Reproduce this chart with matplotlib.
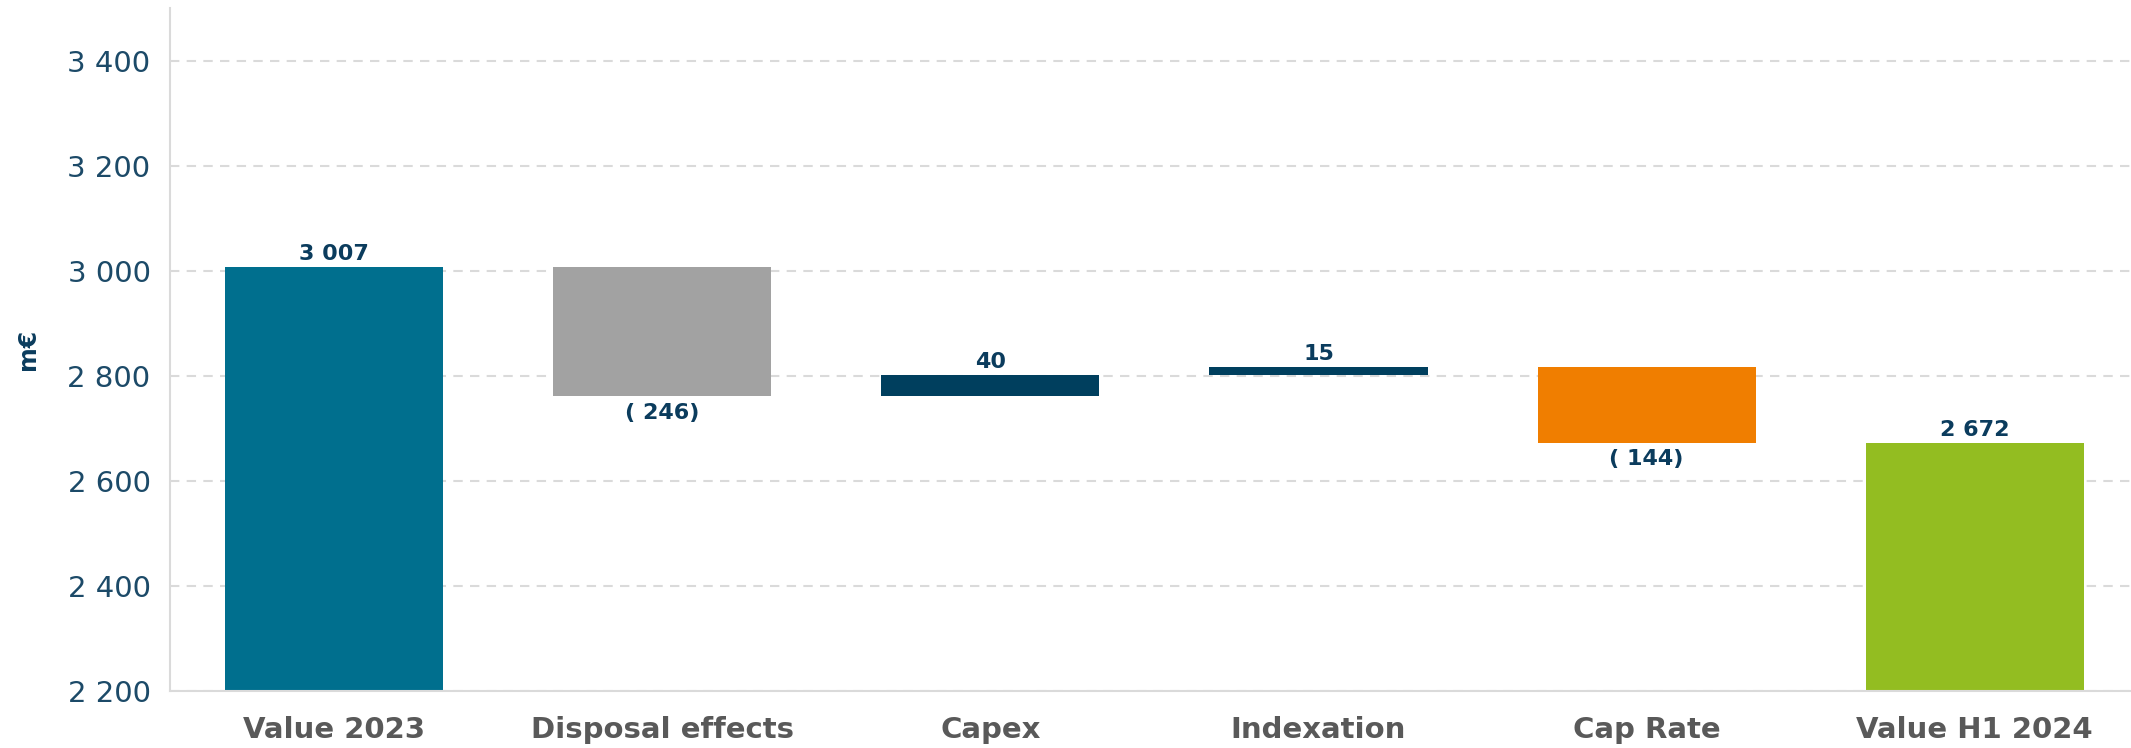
import matplotlib
matplotlib.use("Agg")
import matplotlib.pyplot as plt

# Portfolio value bridge (m€)
categories = ["Value 2023", "Disposal effects", "Capex", "Indexation", "Cap Rate", "Value H1 2024"]
changes = [3007, -246, 40, 15, -144, 2672]
is_total = [True, False, False, False, False, True]
bar_colors = ["#006F8E", "#A2A2A2", "#003F5E", "#003F5E", "#F07E00", "#93BD21"]
y_ticks = [2200, 2400, 2600, 2800, 3000, 3200, 3400]

LABEL_COLOR = "#0B3C5D"
TICK_COLOR = "#1C4A68"
CAT_COLOR = "#595959"
GRID_COLOR = "#DADADA"


def fmt_thousands(v):
    return f"{v:,}".replace(",", " ")


def value_label(v):
    return fmt_thousands(v) if v >= 0 else f"( {fmt_thousands(-v)})"


# Floating bar geometry for the bridge
bottoms, heights = [], []
running = 0
for v, tot in zip(changes, is_total):
    if tot:
        bottoms.append(0)
        heights.append(v)
        running = v
    else:
        bottoms.append(running if v >= 0 else running + v)
        heights.append(abs(v))
        running += v

W, H = 2131, 748
fig = plt.figure(figsize=(W / 100, H / 100), dpi=100)
ax = fig.add_axes([170 / W, (H - 691) / H, (W - 170) / W, (691 - 8) / H])

x = list(range(len(categories)))
ax.bar(x, heights, bottom=bottoms, width=0.665, color=bar_colors, zorder=2)

ax.set_xlim(-0.5, 5.476)
ax.set_ylim(2200, 3500)
ax.set_yticks(y_ticks)
ax.set_yticklabels([fmt_thousands(t) for t in y_ticks])
ax.set_xticks(x)
ax.set_xticklabels(categories)

ax.yaxis.grid(True, linestyle=(0, (4.5, 3.5)), linewidth=1.5, color=GRID_COLOR, zorder=0)
ax.set_axisbelow(True)

for side in ("top", "right"):
    ax.spines[side].set_visible(False)
for side in ("left", "bottom"):
    ax.spines[side].set_color(GRID_COLOR)
    ax.spines[side].set_linewidth(1.5)
    ax.spines[side].set_zorder(3)

ax.tick_params(axis="y", length=0, pad=14, labelsize=21, labelcolor=TICK_COLOR)
ax.tick_params(axis="x", length=0, pad=18, labelsize=21, labelcolor=CAT_COLOR)
for lbl in ax.get_xticklabels():
    lbl.set_fontweight("bold")

ax.set_ylabel("m€", fontsize=17, fontweight="bold", color=LABEL_COLOR)
ax.yaxis.set_label_coords(-0.0663, 0.5)

# Value labels: above the bar for totals and increases, below for decreases
for xi, v, b, h in zip(x, changes, bottoms, heights):
    if v >= 0:
        ax.annotate(value_label(v), (xi, b + h), xytext=(0, 5), textcoords="offset points",
                    ha="center", va="baseline", fontsize=16, fontweight="bold",
                    color=LABEL_COLOR)
    else:
        ax.annotate(value_label(v), (xi, b), xytext=(0, -4.5), textcoords="offset points",
                    ha="center", va="top", fontsize=16, fontweight="bold",
                    color=LABEL_COLOR)

fig.savefig("out.png", dpi=100)
